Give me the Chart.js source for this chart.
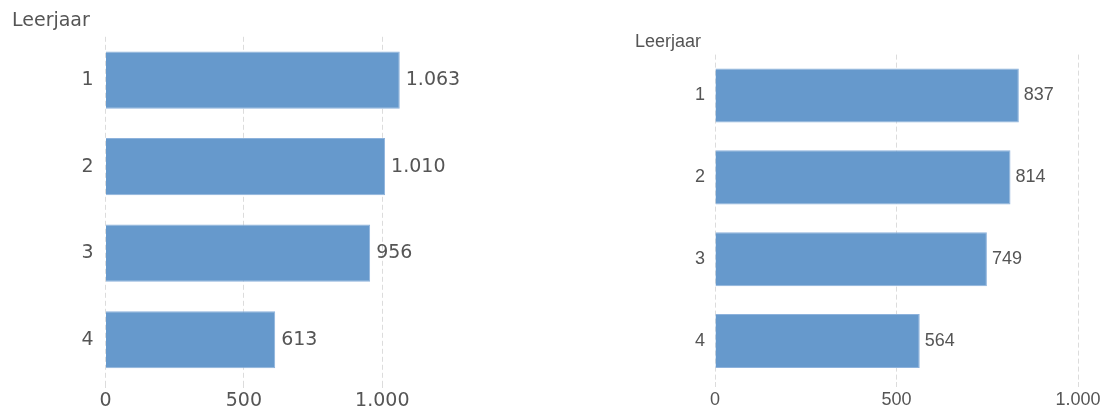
<!DOCTYPE html>
<html>
<head>
<meta charset="utf-8">
<script src="https://cdn.jsdelivr.net/npm/chart.js@4/dist/chart.umd.min.js"></script>
<style>
  body { margin: 0; background: #fff; }
  .box { position: absolute; top: 0; }
</style>
</head>
<body>
<div class="box" style="left:0"><canvas id="leftChart" width="560" height="410"></canvas></div>
<div class="box" style="left:620px"><canvas id="rightChart" width="484" height="410"></canvas></div>
<script>
// Data
const categories = ["1", "2", "3", "4"];
const leftValues = [1063, 1010, 956, 613];
const rightValues = [837, 814, 749, 564];
const xTicks = [0, 500, 1000];
const axisTitle = "Leerjaar";

const barColor = "#6699cc";
const barEdge = "#8db2dc";
const textColor = "#555555";
const gridColor = "#dcdcdc";

// 1063 -> "1.063"
function fmt(v) {
  return String(v).replace(/\B(?=(\d{3})+(?!\d))/g, ".");
}

// value labels at the end of each bar
const barLabels = {
  id: "barLabels",
  afterDatasetsDraw(chart, args, opts) {
    const ctx = chart.ctx;
    const values = chart.data.datasets[0].data;
    ctx.save();
    ctx.font = opts.font;
    ctx.fillStyle = textColor;
    ctx.textAlign = "left";
    ctx.textBaseline = "middle";
    chart.getDatasetMeta(0).data.forEach((bar, i) => {
      ctx.fillText(fmt(values[i]), bar.x + opts.gap, bar.y);
    });
    ctx.restore();
  },
};

function makeChart(id, values, s) {
  const font = { family: s.family, size: s.size };
  return new Chart(id, {
    type: "bar",
    data: {
      labels: categories,
      datasets: [
        {
          data: values,
          backgroundColor: barColor,
          borderColor: barEdge,
          borderWidth: 1,
          barPercentage: 0.66,
          categoryPercentage: 1,
        },
      ],
    },
    options: {
      indexAxis: "y",
      responsive: false,
      animation: false,
      layout: { padding: { left: s.padLeft, right: s.padRight, top: 0, bottom: 0 } },
      plugins: {
        legend: { display: false },
        tooltip: { enabled: false },
        title: {
          display: true,
          text: axisTitle,
          align: "start",
          color: textColor,
          font: { family: s.family, size: s.titleSize, weight: "normal", lineHeight: 1.2 },
          padding: { top: s.titleTop, bottom: s.titleBottom },
        },
        barLabels: { font: s.size + "px '" + s.family + "'", gap: s.gap },
      },
      scales: {
        x: {
          min: 0,
          max: s.xMax,
          afterBuildTicks: (scale) => {
            scale.ticks = xTicks.map((v) => ({ value: v }));
          },
          afterFit: (scale) => {
            scale.height = s.xHeight;
          },
          grid: {
            color: gridColor,
            tickColor: gridColor,
            tickLength: 7,
            tickBorderDash: [5, 3],
          },
          border: { display: false, dash: [5, 3] },
          ticks: {
            color: textColor,
            font: font,
            padding: 0,
            maxRotation: 0,
            callback: (v) => fmt(v),
          },
        },
        y: {
          afterFit: (scale) => {
            scale.width = s.yWidth;
          },
          border: { display: false },
          grid: { display: false, drawTicks: false },
          ticks: { color: textColor, font: font, padding: s.yPad },
        },
      },
    },
    plugins: [barLabels],
  });
}

makeChart("leftChart", leftValues, {
  family: "DejaVu Sans",
  size: 19,
  titleSize: 19,
  titleTop: 10,
  titleBottom: 4,
  padLeft: 12,
  padRight: 150,
  yWidth: 93.5,
  yPad: 12,
  xMax: 1100,
  xHeight: 27,
  gap: 6,
});

makeChart("rightChart", rightValues, {
  family: "Liberation Sans",
  size: 18,
  titleSize: 18,
  titleTop: 31,
  titleBottom: 2,
  padLeft: 15,
  padRight: 26,
  yWidth: 80,
  yPad: 10,
  xMax: 1000,
  xHeight: 28,
  gap: 5,
});
</script>
</body>
</html>
